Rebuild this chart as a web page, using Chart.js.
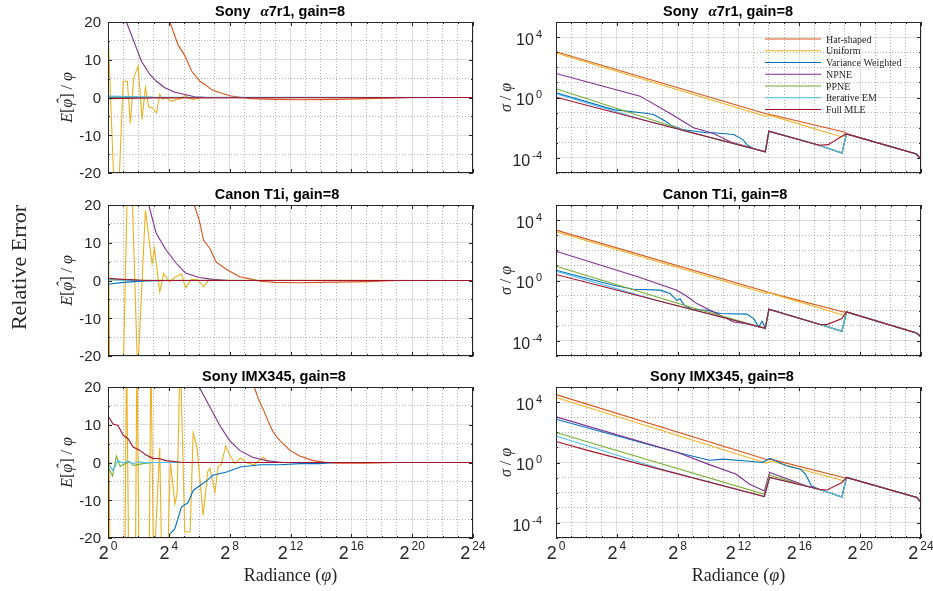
<!DOCTYPE html>
<html>
<head>
<meta charset="utf-8">
<title>Relative error / noise</title>
<script src="https://cdn.jsdelivr.net/npm/chart.js@4.4.1/dist/chart.umd.min.js"></script>
<style>
    html, body { margin: 0; padding: 0; background: #fff; }
    #fig { position: relative; width: 933px; height: 591px; overflow: hidden; }
    #fig canvas { position: absolute; }
</style>
</head>
<body>
<div id="fig"></div>
<script>
// 方法与颜色
const methods = ['Hat-shaped', 'Uniform', 'Variance Weighted', 'NPNE', 'PPNE', 'Iterative EM', 'Full MLE'];
const methodColors = ['#D95319', '#EDB120', '#0072BD', '#7E2F8E', '#77AC30', '#4DBEEE', '#A2142F'];

// 坐标轴刻度 (x 为 log2 辐亮度)
const xGrid = [0, 1, 2, 3, 4, 5, 6, 7, 8, 9, 10, 11, 12, 13, 14, 15, 16, 17, 18, 19, 20, 21, 22, 23, 24];
const xTickExps = [0, 4, 8, 12, 16, 20, 24];
const errGrid = [-20, -15, -10, -5, 0, 5, 10, 15, 20];
const errTicks = [-20, -10, 0, 10, 20];
const sigGridExps = [-5, -4, -3, -2, -1, 0, 1, 2, 3, 4, 5];
const sigTickExps = [-4, 0, 4];

// Sony a7r1 相对误差 [log2 φ, E/φ]
const a7ErrHat = [[0, 200], [3.7, 26], [4.07, 20], [4.6, 14], [5.05, 11.1], [5.5, 7], [6.04, 4.3], [6.4, 3.4], [6.8, 2.1], [7.5, 1.06], [8.1, 0.4], [8.8, 0], [9.5, -0.3], [11, -0.5], [12.5, -0.6], [15, -0.5], [17, -0.3], [19, -0.1], [20, 0], [24, 0]];
const a7ErrUni = [[0, 17.6], [0.55, -40], [1.0, 4.3], [1.27, 4.3], [1.47, -6.9], [1.69, 5.2], [1.98, 8.3], [2.24, -5.8], [2.46, 2.6], [2.68, -2.5], [2.9, -2.7], [3.19, -4.1], [3.4, 0.8], [3.62, -0.5], [3.84, 0], [4.17, -1.0], [4.5, -0.5], [4.8, -0.3], [5.05, 0.6], [5.3, -0.2], [5.6, -0.5], [6.2, 0], [24, 0]];
const a7ErrVw = [[0, -0.1], [2, 0], [24, 0]];
const a7ErrNpne = [[0, 45], [1.21, 20], [1.65, 15.4], [2.2, 9.6], [2.75, 6.1], [3.19, 4.3], [3.74, 2.6], [4.4, 1.4], [5.05, 0.8], [5.7, 0.2], [6.5, 0], [24, 0]];
const a7ErrPpne = [[0, 0.2], [3, 0], [24, 0]];
const a7ErrIem = [[0, 0.4], [3, 0.1], [24, 0]];
const a7ErrMle = [[0, -0.3], [3, -0.1], [24, 0]];

// Canon T1i 相对误差
const t1iErrHat = [[0, 200], [5.3, 28], [5.67, 20], [6.0, 16], [6.28, 10.7], [6.7, 8.5], [7.1, 4.9], [7.8, 2.9], [8.66, 1.0], [9.5, 0.3], [10, -0.2], [11, -0.5], [12.5, -0.6], [14, -0.5], [17, -0.3], [19, 0], [24, 0]];
const t1iErrUni = [[0, 25], [0.15, -40], [1.0, -25], [1.3, 30], [1.5, 35], [1.95, -25], [2.46, 18.6], [2.9, 4.5], [3.05, 8.5], [3.4, -3.0], [3.66, 1.9], [4.06, -0.4], [4.39, 0.8], [4.83, 1.7], [5.1, -1.9], [5.5, 0.3], [5.9, 0.2], [6.3, -1.7], [6.6, 0.1], [7, 0], [24, 0]];
const t1iErrVw = [[0, -1.0], [1, -0.5], [2.5, -0.1], [4, 0], [24, 0]];
const t1iErrNpne = [[0, 90], [2.0, 32], [2.68, 20], [3.17, 12.5], [3.83, 8.0], [4.5, 4.5], [5.1, 2.0], [6.0, 0.8], [6.9, 0.3], [8, 0], [24, 0]];
const t1iErrPpne = [[0, 0.3], [2, 0.1], [24, 0]];
const t1iErrIem = [[0, 0.2], [2, 0], [24, 0]];
const t1iErrMle = [[0, 0.6], [1, 0.3], [2.5, 0], [24, 0]];

// Sony IMX345 相对误差
const imxErrHat = [[0, 900], [8, 60], [9.62, 20], [9.88, 16.9], [10.2, 14.2], [10.55, 10.7], [10.87, 8.0], [11.3, 5.8], [11.97, 3.2], [12.6, 1.7], [13.5, 0.5], [14.4, 0], [15, -0.2], [17, -0.2], [19, 0], [24, 0]];
const imxErrUni = [[0, 25], [0.15, -30], [1.1, -30], [1.22, 30], [1.37, -30], [1.8, -30], [1.9, 30], [2.05, -30], [2.7, -30], [2.82, 30], [3.0, -30], [3.4, 3.9], [3.55, -30], [3.9, -30], [4.1, 0.3], [4.4, -11], [4.55, -8], [4.75, 30], [5.05, -18.4], [5.4, -18.4], [5.6, 7.8], [5.85, 4], [6.26, -14], [6.55, -2.5], [6.7, -1.5], [7.03, -7.9], [7.25, -1], [7.45, -0.5], [7.74, 4.4], [8.0, 2], [8.35, -0.3], [8.7, 1.2], [9.1, 0], [9.6, -0.6], [10.2, 1.4], [10.6, 0], [24, 0]];
const imxErrVw = [[3.9, -25], [4.06, -19], [4.39, -17.6], [4.83, -11.8], [5.27, -10.6], [5.6, -7.4], [6.04, -6.1], [6.5, -4.8], [6.9, -3.4], [7.8, -2.5], [8.7, -1.2], [10.0, -0.6], [11.3, -0.6], [12.6, -0.3], [13.9, -0.3], [15, 0], [24, 0]];
const imxErrNpne = [[4, 80], [6.0, 20], [6.7, 14.7], [7.35, 9.8], [8.0, 5.8], [8.66, 3.2], [9.5, 1.4], [10.4, 0.5], [11.5, 0], [24, 0]];
const imxErrPpne = [[0, -1.2], [0.3, -3.6], [0.55, 1.7], [0.8, -1.0], [1.1, -0.4], [1.43, 0.2], [1.65, -0.8], [2.0, -0.5], [2.5, -0.2], [3, 0], [24, 0]];
const imxErrIem = [[0, -0.3], [0.33, -2.1], [0.66, 0.5], [1.0, -0.2], [1.3, 0.4], [1.6, -0.4], [2.0, 0.2], [2.5, -0.1], [3, 0], [24, 0]];
const imxErrMle = [[0, 12.4], [0.33, 10.2], [0.66, 9.8], [1.0, 7.2], [1.32, 6.3], [1.65, 4.1], [2.1, 3.2], [2.5, 2.0], [2.97, 1.1], [3.4, 1.0], [3.8, 0.5], [4.9, 0], [24, 0]];

// Sony a7r1 噪声 σ/φ
const a7SigHat = [[0, 1070], [13.8, 0.085], [14.1, 0.074], [19.0, 0.005], [19.1, 0.0039], [23.7, 1.8e-4], [24, 8.5e-5]];
const a7SigUni = [[0, 880], [13.76, 0.058], [14.1, 0.065], [18.8, 0.00245], [19.1, 0.0039], [23.7, 1.8e-4], [24, 8.5e-5]];
const a7SigVw = [[0, 2.04], [3.78, 0.158], [5.76, 0.095], [6.42, 0.074], [7.2, 0.027], [7.6, 0.0138], [8.3, 0.0075], [9.9, 0.0046], [10.36, 0.0046], [11.68, 0.00355], [12.3, 0.00162], [12.55, 7.6e-4], [13.0, 4.0e-4], [13.76, 2.5e-4], [14.0, 0.0059], [17.3, 6.9e-4], [18.8, 2.1e-4], [19.1, 0.0039], [23.7, 1.8e-4], [24, 8.5e-5]];
const a7SigNpne = [[0, 38.9], [5.53, 1.23], [7.62, 0.074], [9.04, 0.0098], [10.36, 0.0041], [11.5, 0.00112], [13.76, 2.5e-4], [14.0, 0.0059], [17.3, 6.9e-4], [18.8, 2.1e-4], [19.1, 0.0039], [23.7, 1.8e-4], [24, 8.5e-5]];
const a7SigPpne = [[0, 3.8], [7.62, 0.0126], [8.5, 0.006], [13.76, 2.5e-4], [14.0, 0.0059], [17.3, 6.9e-4], [18.8, 2.1e-4], [19.1, 0.0039], [23.7, 1.8e-4], [24, 8.5e-5]];
const a7SigIem = [[0, 1.78], [6, 0.0275], [13.76, 2.5e-4], [14.0, 0.0059], [17.3, 6.9e-4], [18.8, 2.1e-4], [19.1, 0.0039], [23.7, 1.8e-4], [24, 8.5e-5]];
const a7SigMle = [[0, 1.05], [13.76, 2.5e-4], [14.0, 0.0059], [17.3, 6.9e-4], [17.9, 7.6e-4], [18.9, 0.00316], [19.1, 0.0039], [23.7, 1.8e-4], [24, 8.5e-5]];

// Canon T1i 噪声
const t1iSigHat = [[0, 2190], [13.8, 0.186], [14.0, 0.158], [18.9, 0.0083], [19.1, 0.0083], [23.7, 3.4e-4], [24, 1.86e-4]];
const t1iSigUni = [[0, 1700], [13.7, 0.15], [14.0, 0.158], [18.9, 0.005], [19.1, 0.0083], [23.7, 3.4e-4], [24, 1.86e-4]];
const t1iSigVw = [[0, 4.8], [3.78, 0.49], [5.09, 0.263], [6.85, 0.229], [7.5, 0.138], [7.94, 0.049], [8.16, 0.063], [8.43, 0.0229], [9.0, 0.0117], [9.92, 0.0107], [10.8, 0.00646], [12.55, 0.0059], [13.0, 0.003], [13.33, 8.5e-4], [13.55, 0.002], [13.76, 6.8e-4], [14.0, 0.0126], [17.82, 8.9e-4], [18.8, 4.4e-4], [19.1, 0.0083], [23.7, 3.4e-4], [24, 1.86e-4]];
const t1iSigNpne = [[0, 87], [5.53, 1.58], [7.94, 0.229], [8.6, 0.091], [9.26, 0.0295], [10.36, 0.0083], [11.68, 0.0018], [12.5, 0.0014], [13.76, 6.8e-4], [14.0, 0.0126], [17.82, 8.9e-4], [18.8, 4.4e-4], [19.1, 0.0083], [23.7, 3.4e-4], [24, 1.86e-4]];
const t1iSigPpne = [[0, 8.9], [8.7, 0.019], [13.76, 6.8e-4], [14.0, 0.0126], [17.82, 8.9e-4], [18.8, 4.4e-4], [19.1, 0.0083], [23.7, 3.4e-4], [24, 1.86e-4]];
const t1iSigIem = [[0, 4.2], [7, 0.038], [13.76, 6.8e-4], [14.0, 0.0126], [17.82, 8.9e-4], [18.8, 4.4e-4], [19.1, 0.0083], [23.7, 3.4e-4], [24, 1.86e-4]];
const t1iSigMle = [[0, 2.5], [13.76, 6.8e-4], [14.0, 0.0126], [17.3, 0.00126], [17.82, 0.0012], [18.8, 0.003], [19.1, 0.0083], [23.7, 3.4e-4], [24, 1.86e-4]];

// Sony IMX345 噪声
const imxSigHat = [[0, 31600], [13.9, 1.51], [14.1, 1.66], [18.9, 0.102], [19.1, 0.102], [23.73, 0.0048], [24, 0.00224]];
const imxSigUni = [[0, 20400], [13.85, 0.89], [14.1, 1.26], [18.9, 0.062], [19.1, 0.102], [23.73, 0.0048], [24, 0.00224]];
const imxSigVw = [[0, 741], [8.0, 4.6], [10.1, 1.41], [11.0, 1.66], [12.3, 1.32], [13.6, 1.0], [13.93, 1.66], [14.05, 1.9], [15.2, 0.59], [16.07, 0.363], [16.4, 0.17], [16.8, 0.028], [17.3, 0.017], [18.8, 0.0052], [19.1, 0.102], [23.73, 0.0048], [24, 0.00224]];
const imxSigNpne = [[0, 1050], [8.0, 4.6], [10.0, 0.78], [11.85, 0.166], [12.73, 0.036], [13.7, 0.0132], [14.05, 0.219], [16.5, 0.028], [17.3, 0.017], [18.8, 0.0052], [19.1, 0.102], [23.73, 0.0048], [24, 0.00224]];
const imxSigPpne = [[0, 98], [13.7, 0.0079], [14.05, 0.145], [16.5, 0.027], [17.3, 0.017], [18.8, 0.0052], [19.1, 0.102], [23.73, 0.0048], [24, 0.00224]];
const imxSigIem = [[0, 57.5], [7, 0.34], [13.7, 0.0056], [14.05, 0.102], [17.3, 0.017], [18.8, 0.0052], [19.1, 0.102], [23.73, 0.0048], [24, 0.00224]];
const imxSigMle = [[0, 24.5], [2.2, 5.9], [13.7, 0.0056], [14.05, 0.102], [17.3, 0.017], [17.82, 0.0151], [18.8, 0.047], [19.1, 0.102], [23.73, 0.0048], [24, 0.00224]];

// 字体和颜色
const SANS = '"Liberation Sans", Arial, Helvetica, sans-serif';
const SERIF = '"Liberation Serif", "Times New Roman", serif';
const AXIS_COLOR = '#262626';
const TITLE_FONT = 'bold 14.5px ' + SANS;

// 布局 (像素)
const rowTops = [22, 205, 387];
const plotW = 365;
const plotH = 151;
const titleDx = [-10.5, -13.5, -16.5];

const a7Title = [
    { text: 'Sony', font: TITLE_FONT },
    { text: 'α', font: 'bold italic 15px ' + SERIF, gap: 10 },
    { text: '7r1, gain=8', font: TITLE_FONT }
];

const panels = [
    { row: 0, col: 0, kind: 'err', title: a7Title, series: [a7ErrHat, a7ErrUni, a7ErrVw, a7ErrNpne, a7ErrPpne, a7ErrIem, a7ErrMle] },
    { row: 0, col: 1, kind: 'sig', title: a7Title, legend: true, series: [a7SigHat, a7SigUni, a7SigVw, a7SigNpne, a7SigPpne, a7SigIem, a7SigMle] },
    { row: 1, col: 0, kind: 'err', bigLabel: true, title: [{ text: 'Canon T1i, gain=8', font: TITLE_FONT }], series: [t1iErrHat, t1iErrUni, t1iErrVw, t1iErrNpne, t1iErrPpne, t1iErrIem, t1iErrMle] },
    { row: 1, col: 1, kind: 'sig', title: [{ text: 'Canon T1i, gain=8', font: TITLE_FONT }], series: [t1iSigHat, t1iSigUni, t1iSigVw, t1iSigNpne, t1iSigPpne, t1iSigIem, t1iSigMle] },
    { row: 2, col: 0, kind: 'err', showX: true, title: [{ text: 'Sony IMX345, gain=8', font: TITLE_FONT }], series: [imxErrHat, imxErrUni, imxErrVw, imxErrNpne, imxErrPpne, imxErrIem, imxErrMle] },
    { row: 2, col: 1, kind: 'sig', showX: true, title: [{ text: 'Sony IMX345, gain=8', font: TITLE_FONT }], series: [imxSigHat, imxSigUni, imxSigVw, imxSigNpne, imxSigPpne, imxSigIem, imxSigMle] }
];

// 画一串不同字体的文字 (hat: 在字母上加 ^)
function drawRuns(ctx, runs, x, y, align) {
    let total = 0;
    const widths = runs.map(r => {
        ctx.font = r.font;
        const w = ctx.measureText(r.text).width + (r.gap || 0);
        total += w;
        return w;
    });
    let cx = align === 'center' ? x - total / 2 : (align === 'right' ? x - total : x);
    ctx.textAlign = 'left';
    runs.forEach((r, i) => {
        ctx.font = r.font;
        const tx = cx + (r.gap || 0);
        const ty = y + (r.dy || 0);
        ctx.fillText(r.text, tx, ty);
        if (r.hat) {
            const gw = widths[i] - (r.gap || 0);
            const hw = ctx.measureText('ˆ').width;
            ctx.fillText('ˆ', tx + gw / 2 - hw / 2 + 1.5, ty - 4.5);
        }
        cx += widths[i];
    });
}

function isMajorX(v) {
    return v % 4 === 0;
}

function isMajorY(kind, v) {
    if (kind === 'err') return v % 10 === 0;
    return Math.round(Math.log10(v)) % 4 === 0;
}

// MATLAB 风格坐标框、刻度和文字
function makeAxesPlugin(p) {
    return {
        id: 'matlabAxes',
        afterDraw(chart) {
            const ctx = chart.ctx;
            const a = chart.chartArea;
            const xs = chart.scales.x;
            const ys = chart.scales.y;
            ctx.save();

            ctx.strokeStyle = AXIS_COLOR;
            ctx.lineWidth = 1;
            ctx.strokeRect(a.left + 0.5, a.top + 0.5, a.right - a.left - 1, a.bottom - a.top - 1);
            ctx.beginPath();
            xs.ticks.forEach(t => {
                const px = Math.round(xs.getPixelForValue(t.value)) + 0.5;
                const len = isMajorX(t.value) ? 4 : 2;
                ctx.moveTo(px, a.bottom); ctx.lineTo(px, a.bottom - len);
                ctx.moveTo(px, a.top); ctx.lineTo(px, a.top + len);
            });
            ys.ticks.forEach(t => {
                const py = Math.round(ys.getPixelForValue(t.value)) + 0.5;
                const len = isMajorY(p.kind, t.value) ? 4 : 2;
                ctx.moveTo(a.left, py); ctx.lineTo(a.left + len, py);
                ctx.moveTo(a.right, py); ctx.lineTo(a.right - len, py);
            });
            ctx.stroke();

            ctx.fillStyle = AXIS_COLOR;
            ctx.textBaseline = 'alphabetic';

            // y 刻度标签
            if (p.kind === 'err') {
                errTicks.forEach(v => {
                    const py = ys.getPixelForValue(v);
                    drawRuns(ctx, [{ text: String(v), font: '15px ' + SANS }], a.left - 7, py + 5.4, 'right');
                });
            } else {
                sigTickExps.forEach(e => {
                    const py = ys.getPixelForValue(Math.pow(10, e));
                    drawRuns(ctx, [
                        { text: '10', font: '16px ' + SANS },
                        { text: String(e), font: '11px ' + SANS, dy: -7, gap: 2 }
                    ], a.left - 14, py + 7.7, 'right');
                });
            }

            // x 刻度标签
            if (p.showX) {
                xTickExps.forEach(e => {
                    const px = xs.getPixelForValue(e);
                    drawRuns(ctx, [
                        { text: '2', font: '18px ' + SANS },
                        { text: String(e), font: '12px ' + SANS, dy: -9, gap: 2 }
                    ], px, a.bottom + 21, 'center');
                });
                drawRuns(ctx, [
                    { text: 'Radiance (', font: '18px ' + SERIF },
                    { text: 'φ', font: 'italic 18px ' + SERIF },
                    { text: ')', font: '18px ' + SERIF }
                ], (a.left + a.right) / 2, a.bottom + 43, 'center');
            }

            // y 轴标题
            const cy = (a.top + a.bottom) / 2;
            ctx.save();
            if (p.kind === 'err') {
                ctx.translate(a.left - 41, cy);
                ctx.rotate(-Math.PI / 2);
                drawRuns(ctx, [
                    { text: 'E', font: 'italic 16px ' + SERIF },
                    { text: '[', font: '16px ' + SERIF },
                    { text: 'φ', font: 'italic 16px ' + SERIF, hat: true },
                    { text: ']', font: '16px ' + SERIF },
                    { text: ' / ', font: '16px ' + SERIF },
                    { text: 'φ', font: 'italic 16px ' + SERIF }
                ], 0, 5, 'center');
            } else {
                ctx.translate(a.left - 50, cy);
                ctx.rotate(-Math.PI / 2);
                drawRuns(ctx, [
                    { text: 'σ', font: 'italic 16px ' + SERIF },
                    { text: ' / ', font: '16px ' + SERIF },
                    { text: 'φ', font: 'italic 16px ' + SERIF }
                ], 0, 5, 'center');
            }
            ctx.restore();

            if (p.bigLabel) {
                ctx.save();
                ctx.translate(19, cy - 13);
                ctx.rotate(-Math.PI / 2);
                drawRuns(ctx, [{ text: 'Relative Error', font: '22px ' + SERIF }], 0, 7, 'center');
                ctx.restore();
            }

            // 标题
            ctx.fillStyle = '#000';
            drawRuns(ctx, p.title, (a.left + a.right) / 2 + titleDx[p.row], a.top - 6, 'center');

            // 图例
            if (p.legend) {
                methods.forEach((m, i) => {
                    const ly = a.top + 17 + i * 11.75;
                    ctx.strokeStyle = methodColors[i];
                    ctx.lineWidth = 1.2;
                    ctx.beginPath();
                    ctx.moveTo(a.left + 209, ly);
                    ctx.lineTo(a.left + 265, ly);
                    ctx.stroke();
                    ctx.fillStyle = AXIS_COLOR;
                    drawRuns(ctx, [{ text: m, font: '10px ' + SERIF }], a.left + 270, ly + 3.5, 'left');
                });
            }
            ctx.restore();
        }
    };
}

function gridColor(major) {
    return major ? 'rgba(38, 38, 38, 0.15)' : 'rgba(38, 38, 38, 0.35)';
}

// 初始化六个子图
function initPanels() {
    const fig = document.getElementById('fig');
    panels.forEach(p => {
        const colLeft = p.col === 0 ? 0 : 480;
        const colWidth = p.col === 0 ? 490 : 453;
        const plotLeft = p.col === 0 ? 108 : 556;
        const cTop = rowTops[p.row] - 22;
        const cHeight = p.row === 2 ? 591 - cTop : 181;

        const canvas = document.createElement('canvas');
        canvas.width = colWidth;
        canvas.height = cHeight;
        canvas.style.left = colLeft + 'px';
        canvas.style.top = cTop + 'px';
        canvas.style.width = colWidth + 'px';
        canvas.style.height = cHeight + 'px';
        fig.appendChild(canvas);

        const datasets = p.series.map((s, i) => ({
            label: methods[i],
            data: s.map(pt => ({ x: pt[0], y: pt[1] })),
            borderColor: methodColors[i],
            borderWidth: 1.1,
            pointRadius: 0,
            fill: false,
            tension: 0,
            clip: 0,
            order: 6 - i
        }));

        const yScale = p.kind === 'err' ? {
            type: 'linear',
            min: -20,
            max: 20,
            afterBuildTicks: s => { s.ticks = errGrid.map(v => ({ value: v })); }
        } : {
            type: 'logarithmic',
            min: 1e-5,
            max: 1e5,
            afterBuildTicks: s => { s.ticks = sigGridExps.map(e => ({ value: Math.pow(10, e) })); }
        };
        Object.assign(yScale, {
            afterFit: s => { s.width = 0; },
            ticks: { display: false },
            grid: {
                color: c => gridColor(!c.tick || isMajorY(p.kind, c.tick.value)),
                drawTicks: false,
                lineWidth: 1
            },
            border: { display: false, dash: c => (!c.tick || isMajorY(p.kind, c.tick.value)) ? [] : [1, 2] }
        });

        new Chart(canvas.getContext('2d'), {
            type: 'line',
            data: { datasets: datasets },
            options: {
                responsive: false,
                maintainAspectRatio: false,
                animation: false,
                devicePixelRatio: 1,
                events: [],
                layout: {
                    autoPadding: false,
                    padding: {
                        left: plotLeft - colLeft,
                        right: colWidth - (plotLeft - colLeft) - plotW,
                        top: 22,
                        bottom: cHeight - 22 - plotH
                    }
                },
                plugins: {
                    legend: { display: false },
                    tooltip: { enabled: false }
                },
                scales: {
                    x: {
                        type: 'linear',
                        min: 0,
                        max: 24,
                        afterBuildTicks: s => { s.ticks = xGrid.map(v => ({ value: v })); },
                        afterFit: s => { s.height = 0; },
                        ticks: { display: false },
                        grid: {
                            color: c => gridColor(!c.tick || isMajorX(c.tick.value)),
                            drawTicks: false,
                            lineWidth: 1
                        },
                        border: { display: false, dash: c => (!c.tick || isMajorX(c.tick.value)) ? [] : [1, 2] }
                    },
                    y: yScale
                }
            },
            plugins: [makeAxesPlugin(p)]
        });
    });
}

document.addEventListener('DOMContentLoaded', initPanels);
</script>
</body>
</html>
